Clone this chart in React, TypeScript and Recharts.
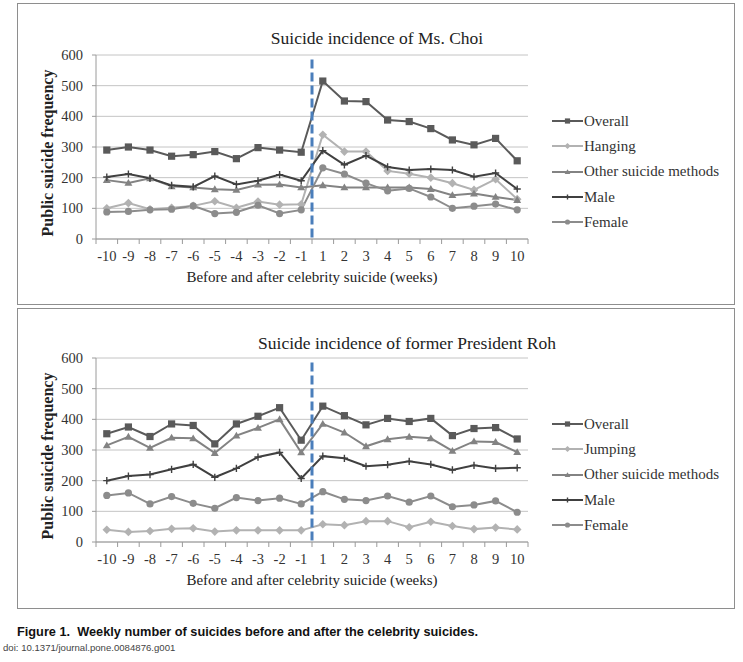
import React from 'react'
import { LineChart, Line, XAxis, YAxis, CartesianGrid, ReferenceLine, Legend } from 'recharts'

const WEEKS = ['-10', '-9', '-8', '-7', '-6', '-5', '-4', '-3', '-2', '-1', '1', '2', '3', '4', '5', '6', '7', '8', '9', '10']
const Y_TICKS = [0, 100, 200, 300, 400, 500, 600]

const CHOI_OVERALL = [290, 300, 290, 270, 275, 285, 262, 298, 290, 283, 515, 450, 448, 388, 383, 360, 323, 307, 328, 255]
const CHOI_HANGING = [100, 117, 97, 102, 108, 123, 102, 122, 112, 113, 340, 285, 285, 222, 213, 200, 182, 160, 195, 130]
const CHOI_OTHER = [192, 183, 198, 172, 168, 162, 160, 177, 178, 168, 175, 168, 168, 168, 168, 163, 143, 148, 137, 127]
const CHOI_MALE = [202, 212, 198, 175, 170, 205, 178, 190, 210, 190, 288, 242, 272, 235, 225, 228, 225, 203, 215, 163]
const CHOI_FEMALE = [88, 90, 95, 97, 108, 83, 87, 110, 83, 95, 232, 212, 182, 157, 165, 137, 100, 107, 114, 95]

const ROH_OVERALL = [353, 375, 344, 385, 380, 320, 385, 410, 438, 332, 443, 412, 382, 403, 393, 403, 347, 370, 373, 336]
const ROH_JUMPING = [40, 33, 36, 43, 45, 34, 38, 38, 38, 38, 58, 55, 68, 68, 48, 66, 52, 42, 47, 41]
const ROH_OTHER = [315, 343, 307, 340, 338, 290, 347, 372, 400, 292, 385, 357, 312, 335, 343, 338, 297, 328, 326, 293]
const ROH_MALE = [200, 215, 220, 237, 253, 211, 240, 277, 292, 207, 280, 273, 247, 252, 263, 253, 235, 250, 240, 242]
const ROH_FEMALE = [152, 160, 124, 148, 126, 110, 145, 135, 143, 124, 164, 139, 135, 150, 130, 150, 115, 121, 134, 97]

// the celebrity death sits between week -1 and week 1
const EVENT_X = WEEKS.indexOf('-1') + 0.5

const SERIF = '"Liberation Serif", "Times New Roman", serif'
const SANS = '"Liberation Sans", Arial, sans-serif'
const AXIS = '#9a9a9a'
const GRID = '#c4c4c4'
const TEXT = '#333'

const CHART_W = 716
const PLOT_LEFT = 78
const PLOT_RIGHT = 206
const HALF_BAND = (CHART_W - PLOT_LEFT - PLOT_RIGHT) / WEEKS.length / 2

type Shape = 'square' | 'diamond' | 'triangle' | 'plus' | 'circle'
type Series = { key: string; name: string; color: string; shape: Shape }

const choiSeries: Series[] = [
  { key: 'overall', name: 'Overall', color: '#5a5a5a', shape: 'square' },
  { key: 'method', name: 'Hanging', color: '#b2b2b2', shape: 'diamond' },
  { key: 'other', name: 'Other suicide methods', color: '#838383', shape: 'triangle' },
  { key: 'male', name: 'Male', color: '#404040', shape: 'plus' },
  { key: 'female', name: 'Female', color: '#8c8c8c', shape: 'circle' },
]
const rohSeries: Series[] = choiSeries.map(s => s.key === 'method' ? { ...s, name: 'Jumping' } : s)

const choiRows = WEEKS.map((w, i) => ({
  i, week: w,
  overall: CHOI_OVERALL[i], method: CHOI_HANGING[i], other: CHOI_OTHER[i], male: CHOI_MALE[i], female: CHOI_FEMALE[i],
}))
const rohRows = WEEKS.map((w, i) => ({
  i, week: w,
  overall: ROH_OVERALL[i], method: ROH_JUMPING[i], other: ROH_OTHER[i], male: ROH_MALE[i], female: ROH_FEMALE[i],
}))

function Marker({ cx, cy, shape, color, r = 3.6 }: { cx: number; cy: number; shape: Shape; color: string; r?: number }) {
  if (cx == null || cy == null) return null
  switch (shape) {
    case 'square':
      return <rect x={cx - r} y={cy - r} width={r * 2} height={r * 2} fill={color} />
    case 'diamond':
      return <polygon points={`${cx},${cy - r * 1.2} ${cx + r * 1.2},${cy} ${cx},${cy + r * 1.2} ${cx - r * 1.2},${cy}`} fill={color} />
    case 'triangle':
      return <polygon points={`${cx},${cy - r * 1.1} ${cx + r * 1.1},${cy + r * 0.8} ${cx - r * 1.1},${cy + r * 0.8}`} fill={color} />
    case 'plus':
      return <path d={`M${cx - r},${cy}h${r * 2}M${cx},${cy - r}v${r * 2}`} stroke={color} strokeWidth={1.4} />
    default:
      return <circle cx={cx} cy={cy} r={r} fill={color} />
  }
}

function WeekTick({ x, y, payload }: any) {
  const i = payload.value
  return (
    <g>
      <line x1={x - HALF_BAND} x2={x - HALF_BAND} y1={y} y2={y + 5} stroke={AXIS} />
      {i === WEEKS.length - 1 && <line x1={x + HALF_BAND} x2={x + HALF_BAND} y1={y} y2={y + 5} stroke={AXIS} />}
      <text x={x} y={y + 22} textAnchor="middle" fontSize={14.5} fontFamily={SERIF} fill={TEXT}>{WEEKS[i]}</text>
    </g>
  )
}

function LegendBox({ series }: { series: Series[] }) {
  return (
    <div style={{ fontFamily: SERIF, fontSize: 15, color: TEXT }}>
      {series.map(s => (
        <div key={s.key} style={{ display: 'flex', alignItems: 'center', height: 25.3, whiteSpace: 'nowrap' }}>
          <svg width={31} height={12} style={{ display: 'block' }}>
            <line x1={0} x2={31} y1={6} y2={6} stroke={s.color} strokeWidth={2} />
            <Marker cx={15.5} cy={6} shape={s.shape} color={s.color} r={2.6} />
          </svg>
          <span style={{ marginLeft: 1 }}>{s.name}</span>
        </div>
      ))}
    </div>
  )
}

function Panel({ top, height, plotTop, bottomGap, title, titleX, legendTop, rows, series }: any) {
  const plotH = height - plotTop - bottomGap
  return (
    <div style={{ position: 'absolute', left: 17, top, width: CHART_W, height, border: '1px solid #8e8e8e', background: '#fff' }}>
      <div style={{ position: 'absolute', left: titleX - 18, top: 34 - 12, transform: 'translateX(-50%)', whiteSpace: 'nowrap', fontFamily: SERIF, fontSize: 17.5, lineHeight: '24px', color: '#222' }}>{title}</div>
      <div style={{ position: 'absolute', left: 30, top: plotTop + plotH / 2 + 6, transform: 'translate(-50%, -50%) rotate(-90deg)', whiteSpace: 'nowrap', fontFamily: SERIF, fontWeight: 700, fontSize: 16, lineHeight: '20px', color: '#222' }}>Public suicide frequency</div>
      <LineChart width={CHART_W} height={height} data={rows} margin={{ top: plotTop, right: PLOT_RIGHT, bottom: 0, left: 0 }}>
        <CartesianGrid vertical={false} stroke={GRID} />
        <XAxis
          dataKey="i" type="number" domain={[-0.5, WEEKS.length - 0.5]} ticks={WEEKS.map((_, i) => i)} interval={0}
          height={bottomGap} tickSize={0} tickMargin={0} tickLine={false} stroke={AXIS} tick={<WeekTick />}
          label={{ value: 'Before and after celebrity suicide (weeks)', position: 'insideBottom', offset: bottomGap - 43, fontFamily: SERIF, fontSize: 15, fill: '#222' }}
        />
        <YAxis
          type="number" domain={[0, 600]} ticks={Y_TICKS} width={PLOT_LEFT} tickSize={4} tickMargin={9} stroke={AXIS}
          tick={{ fontFamily: SERIF, fontSize: 14.5, fill: TEXT }}
        />
        {series.map((s: Series) => (
          <Line
            key={s.key} dataKey={s.key} name={s.name} stroke={s.color} strokeWidth={2} isAnimationActive={false} activeDot={false}
            dot={(p: any) => <Marker key={`${s.key}-${p.index}`} cx={p.cx} cy={p.cy} shape={s.shape} color={s.color} />}
          />
        ))}
        <ReferenceLine segment={[{ x: EVENT_X, y: 585 }, { x: EVENT_X, y: 0 }]} stroke="#4a7ebb" strokeWidth={3} strokeDasharray="9 4" />
        <Legend
          layout="vertical" align="center" verticalAlign="middle"
          wrapperStyle={{ left: 534, top: legendTop, width: 180 }}
          content={() => <LegendBox series={series} />}
        />
      </LineChart>
    </div>
  )
}

export default function App() {
  return (
    <div style={{ position: 'absolute', left: 0, top: 0, width: 743, height: 662, background: '#fff' }}>
      <Panel top={3} height={300} plotTop={51} bottomGap={65} title="Suicide incidence of Ms. Choi" titleX={377}
        legendTop={104.5} rows={choiRows} series={choiSeries} />
      <Panel top={308} height={299} plotTop={49} bottomGap={66} title="Suicide incidence of former President Roh" titleX={407}
        legendTop={102.5} rows={rohRows} series={rohSeries} />
      <div style={{ position: 'absolute', left: 17, top: 624, whiteSpace: 'pre', fontFamily: SANS, fontWeight: 700, fontSize: 12.75, lineHeight: '16px', color: '#111' }}>
        {'Figure 1.  Weekly number of suicides before and after the celebrity suicides.'}
      </div>
      <div style={{ position: 'absolute', left: 3, top: 642, whiteSpace: 'nowrap', fontFamily: SANS, fontSize: 9.6, lineHeight: '12px', color: '#444' }}>
        doi: 10.1371/journal.pone.0084876.g001
      </div>
    </div>
  )
}
